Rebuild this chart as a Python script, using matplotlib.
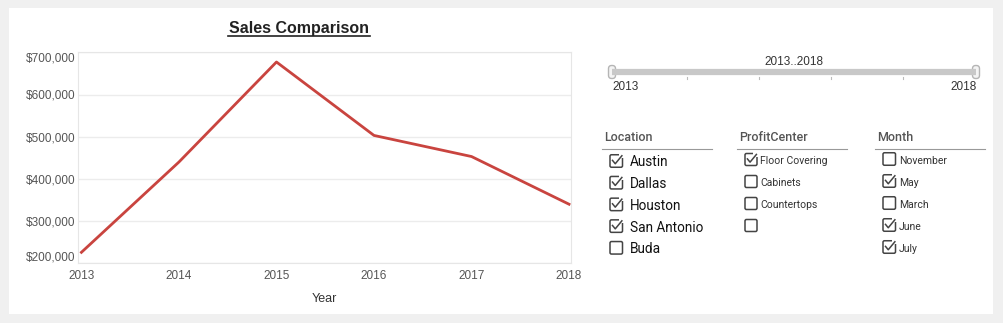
"""Sales comparison dashboard: line chart plus filter widgets."""

import matplotlib
import matplotlib.pyplot as plt
from matplotlib.patches import FancyBboxPatch, Rectangle
from matplotlib.ticker import FuncFormatter

matplotlib.use("Agg")

years = [2013, 2014, 2015, 2016, 2017, 2018]
sales = [226000, 440000, 677000, 503000, 453000, 340000]
y_ticks = [200000, 300000, 400000, 500000, 600000, 700000]

locations = ["Austin", "Dallas", "Houston", "San Antonio", "Buda"]
location_checked = [True, True, True, True, False]
profit_centers = ["Floor Covering", "Cabinets", "Countertops", ""]
profit_checked = [True, False, False, False]
months = ["November", "May", "March", "June", "July"]
month_checked = [False, True, False, True, True]
range_label = "2013..2018"

W, H = 1004, 323
plt.rcParams["font.family"] = ["Liberation Sans", "DejaVu Sans"]

fig = plt.figure(figsize=(W / 100, H / 100), dpi=100)
fig.patch.set_facecolor("#f0f0f0")

# overlay in pixel coordinates (y down) for panel and widgets
ov = fig.add_axes([0, 0, 1, 1])
ov.set_xlim(0, W)
ov.set_ylim(H, 0)
ov.axis("off")
ov.add_patch(Rectangle((9, 8), 984, 306, facecolor="white", edgecolor="none"))


def px_box(x0, y0, x1, y1):
    return [x0 / W, 1 - y1 / H, (x1 - x0) / W, (y1 - y0) / H]


# main chart
ax = fig.add_axes(px_box(78, 52.3, 571, 263.3))
ax.plot(years, sales, color="#c9443f", lw=2)
ax.set_xlim(2012.965, 2018.02)
ax.set_ylim(200000, 700000)
ax.set_yticks(y_ticks)
ax.set_xticks(years)
ax.yaxis.set_major_formatter(FuncFormatter(lambda v, p: f"${v:,.0f}"))
ax.grid(axis="y", color="#ececec", lw=1)
ax.set_axisbelow(True)
for s in ax.spines.values():
    s.set_color("#e6e6e6")
ax.tick_params(length=0, labelsize=8.5, labelcolor="#555555", pad=2)
ax.tick_params(axis="x", pad=5)
ylabels = ax.get_yticklabels()
ylabels[0].set_verticalalignment("bottom")
ylabels[-1].set_verticalalignment("top")
ax.set_xlabel("Year", fontsize=9, color="#333333", labelpad=8)

ov.text(299, 28, "Sales Comparison", ha="center", va="center",
        fontsize=11.5, fontweight="bold", color="#222222")
ov.plot([228, 370], [35.5, 35.5], color="#222222", lw=1.2)

# year range slider
ov.plot([612, 976], [72, 72], color="#c8c8c8", lw=4.5, solid_capstyle="butt")
for tx in [687, 759, 831, 903]:
    ov.plot([tx, tx], [76.5, 79], color="#bbbbbb", lw=0.8)
for hx in [612, 976]:
    ov.add_patch(FancyBboxPatch((hx - 3.5, 65.5), 7, 13,
                                boxstyle="round,pad=0,rounding_size=3.2",
                                facecolor="#f4f4f4", edgecolor="#b5b5b5", lw=1))
ov.text(794, 62, range_label, ha="center", va="center", fontsize=8.5, color="#333333")
ov.text(612, 87, str(years[0]), ha="left", va="center", fontsize=8.5, color="#333333")
ov.text(977, 87, str(years[-1]), ha="right", va="center", fontsize=8.5, color="#333333")


def checkbox(x, y, size, checked):
    ov.add_patch(FancyBboxPatch((x, y - size / 2), size, size,
                                boxstyle="round,pad=0,rounding_size=1.5",
                                facecolor="white", edgecolor="#444444", lw=1.1))
    if checked:
        # gap in the top-right corner where the tick leaves the box
        ov.add_patch(Rectangle((x + size * 0.7, y - size * 0.65), size * 0.45, size * 0.4,
                               facecolor="white", edgecolor="none", zorder=3))
        ov.plot([x + size * 0.2, x + size * 0.42, x + size * 0.95],
                [y - size * 0.05, y + size * 0.22, y - size * 0.42],
                color="#444444", lw=1.1, zorder=4)


def filter_group(x, title, line_end, items, checked, y0, dy, box, text_dx, fs, fcol):
    ov.text(x + 2, 137.5, title, ha="left", va="center", fontsize=9,
            fontfamily="Roboto", fontweight="medium", color="#555555")
    ov.plot([x, line_end], [149, 149], color="#999999", lw=0.8)
    for i, (name, on) in enumerate(zip(items, checked)):
        y = y0 + i * dy
        checkbox(x + 8, y, box, on)
        ov.text(x + 8 + box + text_dx, y + 1.5, name, ha="left", va="center",
                fontsize=fs, fontfamily="Roboto", color=fcol)


filter_group(602, "Location", 712, locations, location_checked,
             161, 21.7, 12.5, 7.5, 9.8, "#111111")
filter_group(737, "ProfitCenter", 847, profit_centers, profit_checked,
             159.5, 22, 12, 3.5, 7.5, "#333333")
filter_group(875, "Month", 985, months, month_checked,
             159, 22, 12.5, 3.5, 7.5, "#333333")

fig.savefig("out.png", dpi=100, facecolor=fig.get_facecolor())
